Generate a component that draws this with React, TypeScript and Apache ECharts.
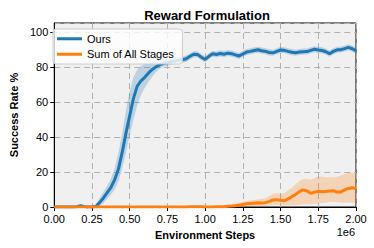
import React, { useEffect, useRef } from "react";
import * as echarts from "echarts";

const steps: number[] = [
  0, 0.025, 0.05, 0.075, 0.1, 0.125, 0.15, 0.175, 0.2, 0.225, 0.25, 0.275, 0.3, 0.325, 0.35, 0.375,
  0.4, 0.425, 0.45, 0.475, 0.5, 0.525, 0.55, 0.575, 0.6, 0.625, 0.65, 0.675, 0.7, 0.725, 0.75, 0.775,
  0.8, 0.825, 0.85, 0.875, 0.9, 0.925, 0.95, 0.975, 1.0, 1.025, 1.05, 1.075, 1.1, 1.125, 1.15, 1.175,
  1.2, 1.225, 1.25, 1.275, 1.3, 1.325, 1.35, 1.375, 1.4, 1.425, 1.45, 1.475, 1.5, 1.525, 1.55, 1.575,
  1.6, 1.625, 1.65, 1.675, 1.7, 1.725, 1.75, 1.775, 1.8, 1.825, 1.85, 1.875, 1.9, 1.925, 1.95, 1.975, 2.0,
];

const oursMean: number[] = [
  0, 0, 0, 0, 0, 0, 0.2, 0.7, 0.2, 0, 0, 0.3, 2.5, 5, 8, 11,
  15.5, 21.5, 31, 42, 52, 62, 69, 72, 74, 76.5, 78.5, 80, 81.2, 82, 82.5, 83,
  83.3, 83.8, 84, 84.6, 86, 87.2, 87, 85.5, 84.2, 86, 87.4, 87, 87.6, 87.2, 87.8, 87.5,
  86.8, 86.2, 87.3, 88.4, 88.8, 89.3, 89.7, 89.2, 88.8, 88.2, 88, 88.8, 89.6, 89.4, 88.8, 88.3,
  88, 88.4, 88.6, 88.7, 89.4, 90, 89.6, 89.3, 88.6, 87.5, 88.8, 89.7, 89.8, 90.4, 91.1, 90.3, 89.2,
];
const oursLow: number[] = [
  0, 0, 0, 0, 0, 0, 0, 0, 0, 0, 0, 0, 0.5, 2, 4.5, 7,
  10, 14.5, 22, 31, 41, 50, 58, 64, 68, 71.5, 74.5, 77, 79, 80, 80.6, 81.2,
  81.6, 82, 82.3, 82.8, 84.2, 85.5, 85.3, 83.8, 82.5, 84.3, 85.7, 85.3, 85.9, 85.5, 86.1, 85.8,
  85.1, 84.5, 85.6, 86.7, 87.1, 87.6, 88, 87.5, 87.1, 86.5, 86.3, 87.1, 87.9, 87.7, 87.1, 86.6,
  86.3, 86.7, 86.9, 87, 87.7, 88.3, 87.9, 87.6, 86.9, 85.8, 87.1, 88, 88.1, 88.7, 89.4, 88.6, 87.5,
];
const oursHigh: number[] = [
  0.4, 0.4, 0.4, 0.4, 0.4, 0.4, 0.7, 1.4, 0.7, 0.4, 0.4, 1.2, 5, 8.5, 12, 16,
  22, 31, 42, 55, 66, 74, 78.5, 80.5, 81.5, 82.3, 83, 83.5, 84, 84.3, 84.6, 84.9,
  85.1, 85.5, 85.7, 86.4, 87.8, 89, 88.8, 87.3, 86, 87.8, 89.2, 88.8, 89.4, 89, 89.6, 89.3,
  88.6, 88, 89.1, 90.2, 90.6, 91.1, 91.5, 91, 90.6, 90, 89.8, 90.6, 91.4, 91.2, 90.6, 90.1,
  89.8, 90.2, 90.4, 90.5, 91.2, 91.8, 91.4, 91.1, 90.4, 89.3, 90.6, 91.5, 91.6, 92.2, 92.9, 92.1, 91,
];

const sumMean: number[] = [
  0, 0, 0, 0, 0, 0, 0, 0, 0, 0, 0, 0, 0, 0, 0, 0,
  0, 0, 0, 0, 0, 0, 0, 0, 0, 0, 0, 0, 0, 0, 0, 0,
  0, 0, 0, 0, 0.1, 0.2, 0.1, 0.1, 0, 0, 0, 0.1, 0.1, 0.2, 0.4, 0.5,
  0.7, 1, 1.4, 1.8, 2, 2.2, 2.4, 2.3, 2.5, 3.2, 4, 4.2, 3.8, 3.5, 4.6, 5.8,
  7.2, 8.8, 9.8, 9.2, 7.8, 8.5, 9, 8.7, 8.9, 9.1, 9.3, 8.5, 8.6, 9.8, 10.6, 11, 10.5,
];
const sumLow: number[] = [
  0, 0, 0, 0, 0, 0, 0, 0, 0, 0, 0, 0, 0, 0, 0, 0,
  0, 0, 0, 0, 0, 0, 0, 0, 0, 0, 0, 0, 0, 0, 0, 0,
  0, 0, 0, 0, 0, 0, 0, 0, 0, 0, 0, 0, 0, 0, 0, 0,
  0, 0.1, 0.2, 0.3, 0.3, 0.3, 0.4, 0.4, 0.5, 0.7, 1, 1, 1, 0.8, 1, 1,
  1, 1.3, 1.5, 1.5, 1.5, 1.8, 2, 2.3, 2.5, 2.8, 3, 2.8, 2.5, 2.5, 2.5, 2.4, 2.3,
];
const sumHigh: number[] = [
  0.3, 0.3, 0.3, 0.3, 0.3, 0.3, 0.3, 0.3, 0.3, 0.3, 0.3, 0.3, 0.3, 0.3, 0.3, 0.3,
  0.3, 0.3, 0.3, 0.3, 0.3, 0.3, 0.3, 0.3, 0.3, 0.3, 0.3, 0.3, 0.3, 0.3, 0.3, 0.3,
  0.3, 0.3, 0.3, 0.3, 0.5, 0.7, 0.5, 0.5, 0.3, 0.3, 0.4, 0.5, 0.6, 0.8, 1.2, 1.6,
  2, 2.5, 3, 3.4, 3.8, 4, 4.3, 4.6, 5, 6.2, 7.5, 7.8, 7.5, 7.8, 9.5, 11,
  13, 14.8, 16, 16, 15.5, 16.5, 17.5, 17.3, 17, 17, 17, 17.3, 18, 18.8, 19.5, 19.6, 19,
];

const xTicks: number[] = [0, 0.25, 0.5, 0.75, 1.0, 1.25, 1.5, 1.75, 2.0];
const yTicks: number[] = [0, 20, 40, 60, 80, 100];

const BLUE = "#1f77b4";
const ORANGE = "#ff7f0e";
const FONT = "Liberation Sans";

const pairs = (ys: number[]) => steps.map((x, i) => [x, ys[i]]);

export default function App() {
  const ref = useRef<HTMLDivElement>(null);
  useEffect(() => {
    document.body.style.margin = "0";
    if (!ref.current) return;
    const chart = echarts.init(ref.current, undefined, { renderer: "svg" });
    const band = (name: string, lo: number[], hi: number[], color: string, z: number) => ({
      name,
      type: "custom",
      silent: true,
      z,
      data: [0],
      renderItem: (_params: any, api: any) => {
        const pts: number[][] = [];
        for (let i = 0; i < steps.length; i++) pts.push(api.coord([steps[i], hi[i]]));
        for (let i = steps.length - 1; i >= 0; i--) pts.push(api.coord([steps[i], lo[i]]));
        return {
          type: "polygon",
          shape: { points: pts },
          style: { fill: color, opacity: 0.25 },
        };
      },
    });
    chart.setOption({
      animation: false,
      title: {
        text: "Reward Formulation",
        left: 202,
        textAlign: "center",
        top: 4,
        textStyle: { fontFamily: FONT, fontSize: 13, fontWeight: "bold", color: "#000" },
      },
      legend: {
        data: ["Ours", "Sum of All Stages"],
        orient: "vertical",
        left: 53,
        top: 29,
        icon: "rect",
        itemWidth: 25,
        itemHeight: 3,
        itemGap: 2,
        padding: [3, 8, 3, 4],
        backgroundColor: "rgba(255,255,255,0.8)",
        borderColor: "#cccccc",
        borderWidth: 1,
        borderRadius: 3,
        textStyle: { fontFamily: FONT, fontSize: 11, color: "#000", lineHeight: 13.5 },
      },
      grid: {
        left: 48,
        right: 18,
        top: 23,
        bottom: 41,
        show: true,
        backgroundColor: "#f0f0f0",
        borderColor: "#000",
        borderWidth: 1,
      },
      xAxis: {
        type: "value",
        min: 0,
        max: 2,
        interval: 0.25,
        name: "Environment Steps",
        nameLocation: "middle",
        nameGap: 22,
        nameTextStyle: { fontFamily: FONT, fontSize: 11, fontWeight: "bold", color: "#000" },
        axisLine: { show: true, lineStyle: { color: "#000", width: 1 } },
        axisTick: { show: true, length: 4, lineStyle: { color: "#000" } },
        axisLabel: {
          fontFamily: FONT,
          fontSize: 11,
          color: "#000",
          margin: 6,
          formatter: (v: number) => (xTicks.some((t) => Math.abs(t - v) < 1e-9) ? v.toFixed(2) : ""),
        },
        splitLine: { show: true, lineStyle: { color: "#b0b0b0", type: [6, 4], width: 1 } },
      },
      yAxis: {
        type: "value",
        min: 0,
        max: 105,
        interval: 20,
        name: "Success Rate %",
        nameLocation: "middle",
        nameGap: 32,
        nameTextStyle: { fontFamily: FONT, fontSize: 11, fontWeight: "bold", color: "#000" },
        axisLine: { show: true, lineStyle: { color: "#000", width: 1 } },
        axisTick: { show: true, length: 4, lineStyle: { color: "#000" } },
        axisLabel: {
          fontFamily: FONT,
          fontSize: 11,
          color: "#000",
          margin: 6,
          showMaxLabel: false,
          formatter: (v: number) => (yTicks.includes(v) ? String(v) : ""),
        },
        splitLine: { show: true, lineStyle: { color: "#b0b0b0", type: [6, 4], width: 1 } },
      },
      graphic: [
        {
          type: "text",
          right: 19,
          top: 226,
          style: { text: "1e6", fontFamily: FONT, fontSize: 11, fill: "#000" },
        },
      ],
      series: [
        band("oursBand", oursLow, oursHigh, BLUE, 1),
        {
          name: "Ours",
          type: "line",
          data: pairs(oursMean),
          showSymbol: false,
          lineStyle: { color: BLUE, width: 3 },
          itemStyle: { color: BLUE },
          z: 3,
        },
        band("sumBand", sumLow, sumHigh, ORANGE, 4),
        {
          name: "Sum of All Stages",
          type: "line",
          data: pairs(sumMean),
          showSymbol: false,
          lineStyle: { color: ORANGE, width: 3 },
          itemStyle: { color: ORANGE },
          z: 5,
        },
      ],
    });
    return () => chart.dispose();
  }, []);
  return <div ref={ref} style={{ width: 374, height: 248 }} />;
}
